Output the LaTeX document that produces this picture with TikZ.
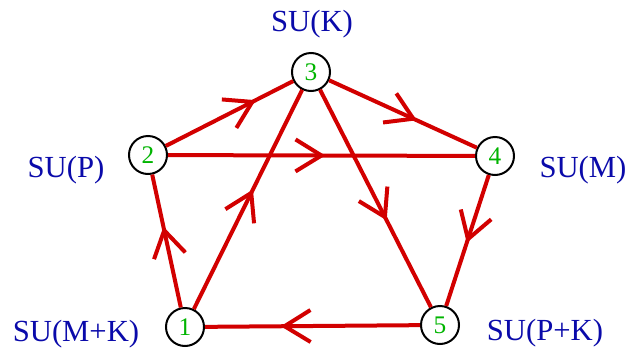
\documentclass[tikz,border=0pt]{standalone}
\usepackage{fontspec}
\setmainfont{Liberation Serif}
\usetikzlibrary{decorations.markings}
\definecolor{lblue}{RGB}{10,10,170}
\definecolor{ngreen}{RGB}{0,180,0}
\definecolor{ered}{RGB}{210,0,0}
\tikzset{
  vert/.style={circle, draw=black, line width=1.5pt, minimum size=28.5pt, inner sep=0pt, text=ngreen, font=\fontsize{19}{19}\selectfont},
  lab/.style={text=lblue, font=\fontsize{23}{23}\selectfont, inner sep=0pt},
  edge/.style={draw=ered, line width=3pt},
  chev/.style={edge, postaction={decorate}, decoration={markings, mark=at position #1 with {\draw[ered, line width=3pt] (-19.5pt,12pt) -- (0pt,0pt) -- (-19.5pt,-12pt);}}}
}
\begin{document}
\begin{tikzpicture}[x=0.75pt, y=-0.75pt]
\useasboundingbox (0,0) rectangle (629,347);
\node[vert] (n1) at (185,327) {1};
\node[vert] (n2) at (148,155) {2};
\node[vert] (n3) at (311,72) {3};
\node[vert] (n4) at (495,156) {4};
\node[vert] (n5) at (440,325) {5};
\node[lab] (l3) at (312,24) {SU(K)};
\node[lab] (l2) at (66,170) {SU(P)};
\node[lab] (l4) at (583,170) {SU(M)};
\node[lab] (l1) at (76,334) {SU(M+K)};
\node[lab] (l5) at (545,333) {SU(P+K)};
\draw[chev=0.68] (n2) -- (n3);
\draw[chev=0.57] (n3) -- (n4);
\draw[chev=0.50] (n2) -- (n4);
\draw[chev=0.585] (n3) -- (n5);
\draw[chev=0.49] (n4) -- (n5);
\draw[chev=0.63] (n5) -- (n1);
\draw[chev=0.58] (n1) -- (n2);
\draw[chev=0.53] (n1) -- (n3);
\end{tikzpicture}
\end{document}
